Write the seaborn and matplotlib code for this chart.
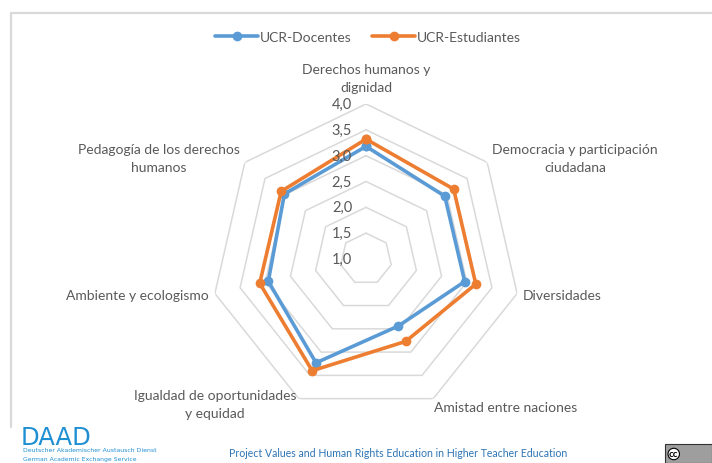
import numpy as np
import pandas as pd
import matplotlib
matplotlib.use("Agg")
import matplotlib.pyplot as plt
from matplotlib.lines import Line2D
from matplotlib.patches import Rectangle
import seaborn as sns

# datos
categorias = [
    "Derechos humanos y\ndignidad",
    "Democracia y participación\nciudadana",
    "Diversidades",
    "Amistad entre naciones",
    "Igualdad de oportunidades\ny equidad",
    "Ambiente y ecologismo",
    "Pedagogía de los derechos\nhumanos",
]
docentes = [3.18, 2.95, 2.96, 2.44, 3.23, 2.94, 3.02]
estudiantes = [3.32, 3.17, 3.18, 2.77, 3.40, 3.11, 3.10]
series = ["UCR-Docentes", "UCR-Estudiantes"]
colores = ["#5B9BD5", "#ED7D31"]
ticks = [1.0, 1.5, 2.0, 2.5, 3.0, 3.5, 4.0]
tick_labels = ["1,0", "1,5", "2,0", "2,5", "3,0", "3,5", "4,0"]

sns.set_theme(style="white")
plt.rcParams["font.family"] = ["Lato", "DejaVu Sans"]
gris = "#595959"

n = len(categorias)
ang = np.linspace(0, 2 * np.pi, n, endpoint=False)
ang_c = np.append(ang, 2 * np.pi)

filas = []
for nombre, vals in zip(series, [docentes, estudiantes]):
    vc = vals + vals[:1]
    for a, v in zip(ang_c, vc):
        filas.append({"theta": a, "valor": v, "serie": nombre})
df = pd.DataFrame(filas)

fig = plt.figure(figsize=(7.12, 4.64), dpi=100)
ax = fig.add_axes([211 / 712, 49 / 464, 310 / 712, 310 / 464], projection="polar")
ax.set_theta_zero_location("N")
ax.set_theta_direction(-1)
ax.set_ylim(1, 4)
ax.grid(False)
ax.spines["polar"].set_visible(False)
ax.set_xticks([])
ax.set_yticks([])
ax.set_facecolor("none")

# rejilla heptagonal
for t in ticks[1:]:
    ax.plot(ang_c, [t] * len(ang_c), color="#D9D9D9", lw=1.1, zorder=1)

sns.lineplot(data=df, x="theta", y="valor", hue="serie", palette=colores,
             sort=False, estimator=None, marker="o", markersize=7,
             markeredgewidth=0, lw=2.6, legend=False, ax=ax, zorder=3)
ax.set_xlabel("")
ax.set_ylabel("")

for t, lab in zip(ticks, tick_labels):
    ax.annotate(lab, (0, t), xytext=(-10, 0), textcoords="offset points",
                ha="right", va="center", fontsize=10.5, color=gris)

# etiquetas de categorías
pos = [
    (4.50, "center", "center"),
    (4.12, "left", "center"),
    (4.12, "left", "center"),
    (4.05, "left", "top"),
    (4.12, "right", "center"),
    (4.12, "right", "center"),
    (4.12, "right", "center"),
]
for a, lab, (r, ha, va) in zip(ang, categorias, pos):
    ax.text(a, r, lab, ha=ha, va=va, multialignment="center",
            fontsize=10, color=gris, linespacing=1.6)

handles = [Line2D([], [], color=c, lw=2.6, marker="o", markersize=7,
                  markeredgewidth=0) for c in colores]
fig.legend(handles, series, loc="center", bbox_to_anchor=(368 / 712, 1 - 38 / 464),
           ncol=2, frameon=False, fontsize=10, handlelength=3.1,
           handletextpad=0.1, columnspacing=1.5, labelcolor=gris)

# marco y pie de página
fig.add_artist(Line2D([11 / 712, 1], [1 - 14 / 464] * 2, color="#D9D9D9", lw=1.6))
fig.add_artist(Line2D([11 / 712] * 2, [1 - 14 / 464, 1 - 428 / 464], color="#D9D9D9", lw=1.6))
azul = "#1E8FD3"
fig.text(21 / 712, 1 - 445 / 464, "DAAD", color=azul, fontsize=17.5,
         family="DejaVu Sans", ha="left", va="baseline")
fig.text(23 / 712, 1 - 452.5 / 464, "Deutscher Akademischer Austausch Dienst",
         color=azul, fontsize=4.4, family="DejaVu Sans", ha="left", va="baseline")
fig.text(23 / 712, 1 - 461.5 / 464, "German Academic Exchange Service",
         color=azul, fontsize=4.4, family="DejaVu Sans", ha="left", va="baseline")
fig.text(398 / 712, 1 - 454 / 464,
         "Project Values and Human Rights Education in Higher Teacher Education",
         color="#2E75B6", fontsize=7.6, ha="center", va="center")
fig.add_artist(Rectangle((665 / 712, 0), 47 / 712, 19 / 464, transform=fig.transFigure,
                         facecolor="#9E9E9E", edgecolor="#333333", lw=0.8))
fig.text(669 / 712, 1 - 455 / 464, "cc", color="black", fontsize=7,
         fontweight="bold", ha="left", va="center",
         bbox=dict(boxstyle="circle,pad=0.1", fc="white", ec="black", lw=0.8))

fig.savefig("out.png", dpi=100, facecolor="white")
